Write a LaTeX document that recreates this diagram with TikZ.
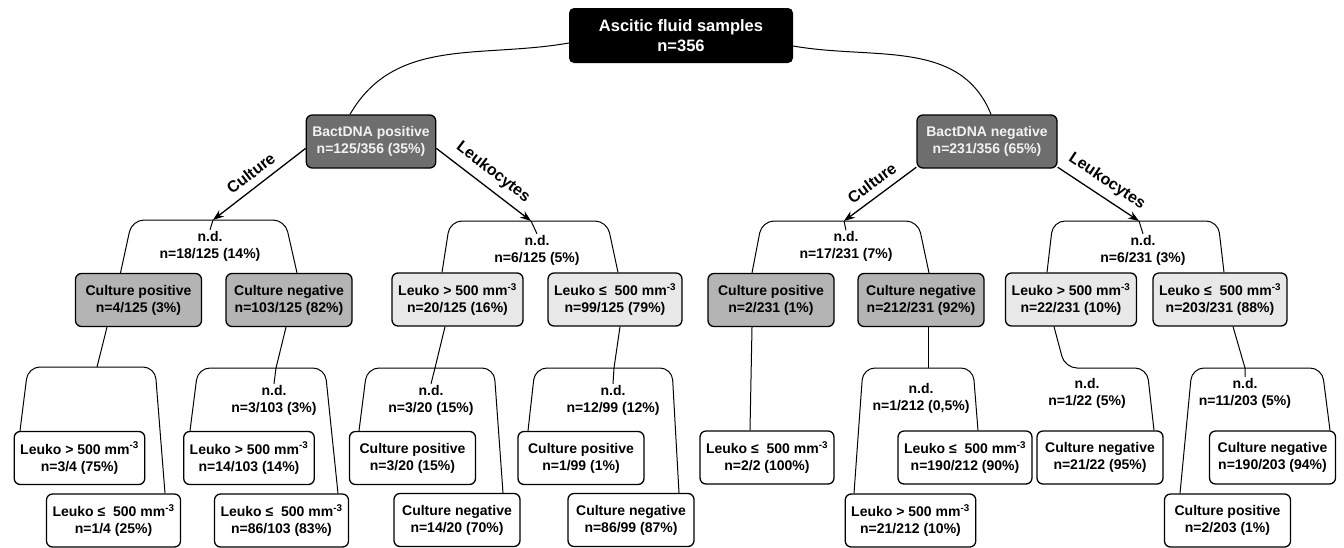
\documentclass[tikz,border=0pt]{standalone}
\usepackage{fontspec}
\setmainfont{Liberation Sans}
\usepackage{tikz}
\usetikzlibrary{positioning,arrows.meta}
\definecolor{bactGray}{RGB}{110,110,110}
\definecolor{cultureGray}{RGB}{180,180,180}
\definecolor{leukoGray}{RGB}{232,232,232}
\newcommand{\boxFont}{\bfseries\fontsize{14}{17}\selectfont}
\newcommand{\rootFont}{\bfseries\fontsize{16.5}{20}\selectfont}
\newcommand{\arrowFont}{\bfseries\fontsize{16}{19}\selectfont}
\tikzstyle{diagram} = [x = 1pt, y = -1pt]
\tikzstyle{boxStyle} = [draw=black, line width=1.3pt, rounded corners=6pt, align=center, inner xsep=6pt, minimum height=53pt, font=\boxFont]
\tikzstyle{rootBox} = [fill=black, text=white, rounded corners=5pt, align=center, minimum width=224pt, minimum height=55pt, font=\rootFont]
\tikzstyle{bactBox} = [boxStyle, fill=bactGray, text=white!95!black]
\tikzstyle{cultureBox} = [boxStyle, fill=cultureGray, minimum width=126pt]
\tikzstyle{leukoBox} = [boxStyle, fill=leukoGray, minimum width=131pt]
\tikzstyle{leafBox} = [boxStyle, fill=white, minimum width=126pt]
\tikzstyle{ndText} = [align=center, inner sep=1pt, font=\boxFont]
\tikzstyle{treeLine} = [line width=1pt]
\tikzstyle{bracketLine} = [line width=1pt, rounded corners=12pt]
\tikzstyle{arrowLine} = [line width=1.3pt, -{Stealth[length=11pt, width=8pt]}]
\tikzstyle{arrowText} = [midway, sloped, above=4pt, font=\arrowFont]
\newcommand{\leukoHigh}{Leuko > 500 mm\textsuperscript{-3}}
\newcommand{\leukoLow}{Leuko ≤\ \ 500 mm\textsuperscript{-3}}
\newcommand{\ndLabel}[4]{\node [ndText] (#1) at (#2,#3) {n.d.\\#4};}
% left box, left shift, top point, left corner, right corner, right box, right shift
\newcommand{\ndBracket}[7]{\draw [bracketLine] ([xshift=#2pt]#1.north) -- ([xshift=#4pt]#3) -- ([xshift=#5pt]#3) -- ([xshift=#7pt]#6.north);}

\begin{document}
\begin{tikzpicture}[diagram]
  \useasboundingbox (0,0) rectangle (1344,547);

  % top level
  \node [rootBox] (root) at (681,35.5) {Ascitic fluid samples\\n=356};
  \node [bactBox, minimum width=128pt] (bpos) at (371,141.5) {BactDNA positive\\n=125/356 (35\%)};
  \node [bactBox, minimum width=140pt] (bneg) at (987,141.5) {BactDNA negative\\n=231/356 (65\%)};
  \draw [treeLine] ([yshift=-7.5pt]root.west) to[out=190, in=60] ([xshift=-21pt]bpos.north);
  \draw [treeLine] ([yshift=-10.5pt]root.east) to[out=-10, in=112] ([xshift=4pt]bneg.north);

  % top points of the brackets
  \coordinate (tPC) at (213,220);
  \coordinate (tPCp) at (97,367);
  \coordinate (tPCn) at (276,368);
  \coordinate (tPL) at (531,221);
  \coordinate (tPLh) at (435,368);
  \coordinate (tPLl) at (614,368);
  \coordinate (tNC) at (844,221);
  \coordinate (tNCn) at (928,368);
  \coordinate (tNL) at (1139,221);
  \coordinate (tNLh) at (1065,368);
  \coordinate (tNLl) at (1245,368);

  % BactDNA positive, culture
  \ndLabel{ndPC}{210}{246}{n=18/125 (14\%)}
  \node [cultureBox] (cpPC) at (138.5,300) {Culture positive\\n=4/125 (3\%)};
  \node [cultureBox] (cnPC) at (289,300) {Culture negative\\n=103/125 (82\%)};
  \node [leafBox] (lhPCp) at (79.5,458) {\leukoHigh\\n=3/4 (75\%)};
  \node [leafBox] (llPCp) at (113.5,520.5) {\leukoLow\\n=1/4 (25\%)};
  \ndLabel{ndPCn}{274}{400}{n=3/103 (3\%)}
  \node [leafBox] (lhPCn) at (249,458) {\leukoHigh\\n=14/103 (14\%)};
  \node [leafBox] (llPCn) at (281.5,520.5) {\leukoLow\\n=86/103 (83\%)};
  \draw [arrowLine] (bpos.186) -- node [arrowText] {Culture} (tPC);
  \draw [treeLine] (tPC) -- (ndPC.north);
  \ndBracket{cpPC}{-18}{tPC}{-81}{72}{cnPC}{8}
  \draw [treeLine] ([xshift=-31.5pt]cpPC.south) -- (tPCp);
  \ndBracket{lhPCp}{-59.5}{tPCp}{-69}{58}{llPCp}{51.5}
  \draw [treeLine] ([xshift=-3pt]cnPC.south) -- (tPCn) -- (ndPCn.north);
  \ndBracket{lhPCn}{-59}{tPCn}{-78}{49}{llPCn}{56.5}

  % BactDNA positive, leukocytes
  \ndLabel{ndPL}{537}{250}{n=6/125 (5\%)}
  \node [leukoBox] (lhPL) at (457.5,299.5) {\leukoHigh\\n=20/125 (16\%)};
  \node [leukoBox] (llPL) at (615,299.5) {\leukoLow\\n=99/125 (79\%)};
  \ndLabel{ndPLh}{431}{400}{n=3/20 (15\%)}
  \node [leafBox] (cpPLh) at (412.5,458) {Culture positive\\n=3/20 (15\%)};
  \node [leafBox] (cnPLh) at (457,520) {Culture negative\\n=14/20 (70\%)};
  \ndLabel{ndPLl}{613}{400}{n=12/99 (12\%)}
  \node [leafBox] (cpPLl) at (581,458) {Culture positive\\n=1/99 (1\%)};
  \node [leafBox] (cnPLl) at (631,520) {Culture negative\\n=86/99 (87\%)};
  \draw [arrowLine] (bpos.-6) -- node [arrowText] {Leukocytes} (tPL);
  \draw [treeLine] (tPL) -- (ndPL.north);
  \ndBracket{lhPL}{-15.5}{tPL}{-81}{76}{llPL}{3}
  \draw [treeLine] ([xshift=-12.5pt]lhPL.south) -- (tPLh) -- (ndPLh.north);
  \ndBracket{cpPLh}{-53.5}{tPLh}{-68}{59}{cnPLh}{46}
  \draw [treeLine] ([xshift=5pt]llPL.south) -- (tPLl) -- (ndPLl.north);
  \ndBracket{cpPLl}{-53}{tPLl}{-79}{58}{cnPLl}{48}

  % BactDNA negative, culture
  \ndLabel{ndNC}{846}{246.5}{n=17/231 (7\%)}
  \node [cultureBox] (cpNC) at (771,300) {Culture positive\\n=2/231 (1\%)};
  \node [cultureBox] (cnNC) at (921,300) {Culture negative\\n=212/231 (92\%)};
  \node [leafBox] (llNCp) at (767,457.5) {\leukoLow\\n=2/2 (100\%)};
  \ndLabel{ndNCn}{921}{398}{n=1/212 (0,5\%)}
  \node [leafBox] (llNCn) at (965,457.5) {\leukoLow\\n=190/212 (90\%)};
  \node [leafBox] (lhNCn) at (910.5,520.5) {\leukoHigh\\n=21/212 (10\%)};
  \draw [arrowLine] (bneg.200) -- node [arrowText] {Culture} (tNC);
  \draw [treeLine] (tNC) -- (ndNC.north);
  \ndBracket{cpNC}{-19}{tNC}{-82}{74}{cnNC}{8}
  \draw [treeLine] ([xshift=-19pt]cpNC.south) -- ([xshift=-17pt]llNCp.north);
  \draw [treeLine] ([xshift=7pt]cnNC.south) -- (tNCn);
  \ndBracket{lhNCn}{-56.5}{tNCn}{-65}{45}{llNCn}{13}

  % BactDNA negative, leukocytes
  \ndLabel{ndNL}{1143}{250}{n=6/231 (3\%)}
  \node [leukoBox] (lhNL) at (1071,299.5) {\leukoHigh\\n=22/231 (10\%)};
  \node [leukoBox] (llNL) at (1220,299.5) {\leukoLow\\n=203/231 (88\%)};
  \ndLabel{ndNLh}{1087}{393}{n=1/22 (5\%)}
  \node [leafBox] (cnNLh) at (1100,457.5) {Culture negative\\n=21/22 (95\%)};
  \ndLabel{ndNLl}{1245}{393}{n=11/203 (5\%)}
  \node [leafBox] (cnNLl) at (1272.5,457.5) {Culture negative\\n=190/203 (94\%)};
  \node [leafBox] (cpNLl) at (1227.5,520.5) {Culture positive\\n=2/203 (1\%)};
  \draw [arrowLine] (bneg.-20) -- node [arrowText] {Leukocytes} (tNL);
  \draw [treeLine] (tNL) -- (ndNL.north);
  \ndBracket{lhNL}{-24}{tNL}{-86}{79}{llNL}{4}
  \draw [bracketLine] ([xshift=-17pt]lhNL.south) -- (tNLh) -- ([xshift=82pt]tNLh) -- ([xshift=54pt]cnNLh.north);
  \draw [treeLine] ([xshift=13pt]llNL.south) -- (tNLl) -- (ndNLl.north);
  \ndBracket{cpNLl}{-47.5}{tNLl}{-53}{77}{cnNLl}{57.5}
\end{tikzpicture}
\end{document}
